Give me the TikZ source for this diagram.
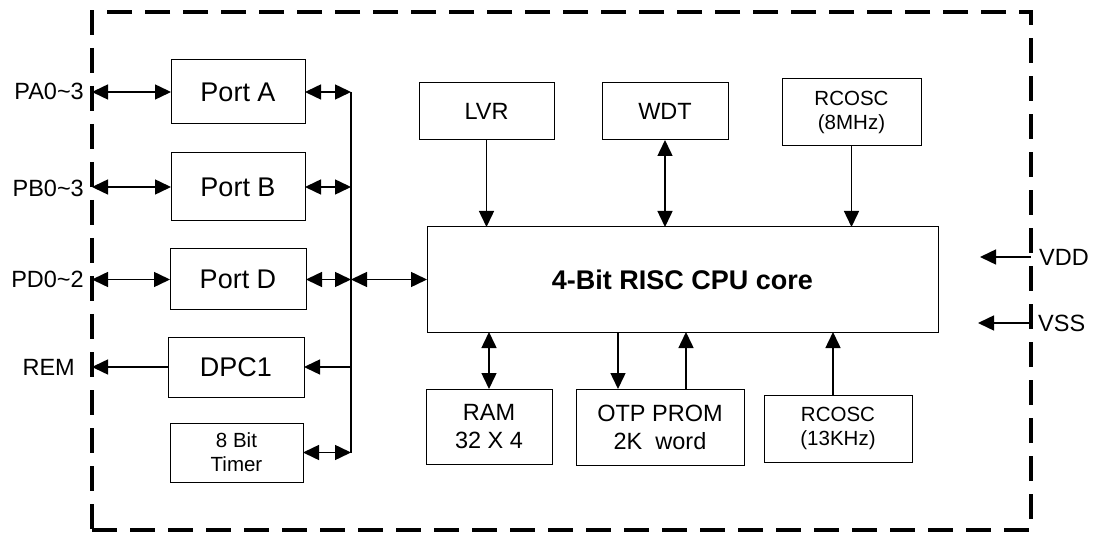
\documentclass[tikz,border=0pt]{standalone}
\usepackage{fontspec}
\setmainfont{Liberation Sans}
\usetikzlibrary{positioning, arrows.meta, calc}
\newcommand{\fbig}{\fontsize{27}{31}\selectfont}
\newcommand{\fmid}{\fontsize{23.5}{28}\selectfont}
\newcommand{\fsmall}{\fontsize{20.5}{24}\selectfont}
\tikzset{
  block/.style={draw, line width=1pt, inner sep=0pt, outer sep=0pt, align=center},
  sig/.style={line width=1.5pt, -{Triangle[length=16pt,width=15pt]}},
  bisig/.style={line width=1.5pt, {Triangle[length=16pt,width=15pt]}-{Triangle[length=16pt,width=15pt]}},
  wire/.style={line width=1.5pt},
  pinlabel/.style={inner sep=0pt, font=\fmid},
}

\begin{document}
\begin{tikzpicture}[x=1pt, y=-1pt]
    \useasboundingbox (0,0) rectangle (1094,534);

        % Chip outline
        \node[draw, line width=4pt, dash pattern=on 25pt off 13pt, inner sep=0pt, outer sep=0pt,
            minimum width=939pt, minimum height=518pt] (chip) at (561.5,271) {};

        % Ports
        \node[block, font=\fbig, minimum width=134pt, minimum height=64pt] (PortA) at (238,92) {Port A};
        \node[block, font=\fbig, minimum width=134pt, minimum height=68pt] (PortB) at (238,187) {Port B};
        \node[block, font=\fbig, minimum width=136pt, minimum height=61pt] (PortD) at (238,279.5) {Port D};
        \node[block, font=\fbig, minimum width=136pt, minimum height=60pt] (DPC) at (236,367) {DPC1};
        \node[block, font=\fsmall, minimum width=133pt, minimum height=59pt] (Timer) at (236.5,452.5) {8 Bit\\Timer};

        % Core and peripherals
        \node[block, font=\fbig\bfseries, minimum width=511pt, minimum height=105pt] (CPU) at (682.5,279.5) {4-Bit RISC CPU core};
        \node[block, font=\fmid, minimum width=135pt, minimum height=57pt] (LVR) at (486.5,111.5) {LVR};
        \node[block, font=\fmid, minimum width=126pt, minimum height=57pt] (WDT) at (665,111.5) {WDT};
        \node[block, font=\fsmall, minimum width=139pt, minimum height=67pt] (RCfast) at (851.5,112.5) {RCOSC\\(8MHz)};
        \node[block, font=\fmid, minimum width=126pt, minimum height=75pt] (RAM) at (489,426.5) {RAM\\32 X 4};
        \node[block, font=\fmid, minimum width=168pt, minimum height=76pt] (OTP) at (660,427) {OTP PROM\\2K\ \ word};
        \node[block, font=\fsmall, minimum width=148pt, minimum height=67pt] (RCslow) at (838,428.5) {RCOSC\\(13KHz)};

        % Pin labels
        \node[pinlabel, anchor=east] (PA) at (84,91) {PA0\textasciitilde3};
        \node[pinlabel, anchor=east] (PB) at (84,188) {PB0\textasciitilde3};
        \node[pinlabel, anchor=east] (PD) at (84,279) {PD0\textasciitilde2};
        \node[pinlabel, anchor=east] (REM) at (75,367) {REM};
        \node[pinlabel, anchor=west] (VDD) at (1039,257) {VDD};
        \node[pinlabel, anchor=west] (VSS) at (1038,323) {VSS};

        % Pins to ports
        \draw[bisig] (PortA.west -| chip.west) -- (PortA.west);
        \draw[bisig] (PortB.west -| chip.west) -- (PortB.west);
        \draw[bisig] (PortD.west -| chip.west) -- (PortD.west);
        \draw[sig] (DPC.west) -- (DPC.west -| chip.west);

        % Internal bus
        \coordinate (bus) at (351,92);
        \draw[wire] (PortA.east -| bus) -- (Timer.east -| bus);
        \draw[bisig] (PortA.east) -- (PortA.east -| bus);
        \draw[bisig] (PortB.east) -- (PortB.east -| bus);
        \draw[bisig] (PortD.east) -- (PortD.east -| bus);
        \draw[sig] (DPC.east -| bus) -- (DPC.east);
        \draw[bisig] (Timer.east) -- (Timer.east -| bus);
        \draw[bisig] (PortD.east -| bus) -- (CPU.west);

        % Top blocks
        \draw[sig] (LVR.south) -- (LVR.south |- CPU.north);
        \draw[bisig] (WDT.south) -- (WDT.south |- CPU.north);
        \draw[sig] (RCfast.south) -- (RCfast.south |- CPU.north);

        % Bottom blocks
        \coordinate (otpin) at ([xshift=-42pt]OTP.north);
        \coordinate (otpout) at ([xshift=26pt]OTP.north);
        \coordinate (rcin) at ([xshift=-5pt]RCslow.north);
        \draw[bisig] (RAM.north |- CPU.south) -- (RAM.north);
        \draw[sig] (otpin |- CPU.south) -- (otpin);
        \draw[sig] (otpout) -- (otpout |- CPU.south);
        \draw[sig] (rcin) -- (rcin |- CPU.south);

        % Supply pins
        \coordinate (vdd) at (980,257);
        \coordinate (vss) at (978,323);
        \draw[sig] (vdd -| chip.east) -- (vdd);
        \draw[sig] (vss -| chip.east) -- (vss);

    \end{tikzpicture}
\end{document}
